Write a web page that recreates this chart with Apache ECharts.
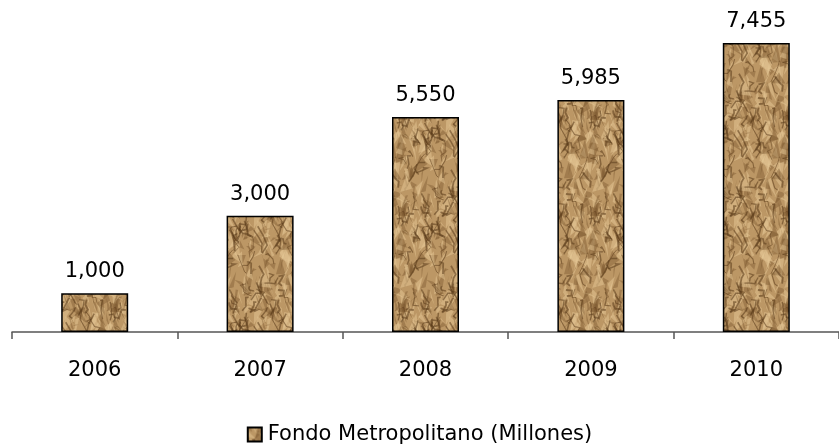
<!DOCTYPE html>
<html><head><meta charset="utf-8">
<script src="https://cdn.jsdelivr.net/npm/echarts@6/dist/echarts.min.js"></script>
<style>html,body{margin:0;padding:0;background:#fff}#c{width:839px;height:446px}</style>
</head><body><div id="c"></div>
<script>
const categories = ['2006','2007','2008','2009','2010'];
const values = [1000, 3000, 5550, 5985, 7455];
const seriesName = 'Fondo Metropolitano (Millones)';

// crumpled-paper style texture (deterministic, seamless)
function makeTexture(){
  const W = 96;
  const c = document.createElement('canvas');
  c.width = W; c.height = W;
  const g = c.getContext('2d');
  let s = 24681;
  const rnd = () => { s = (s * 16807) % 2147483647; return (s - 1) / 2147483646; };
  g.fillStyle = '#bc9765'; g.fillRect(0,0,W,W);
  const offs = [-W,0,W];
  function wrap(draw){ offs.forEach(dx=>offs.forEach(dy=>{ g.save(); g.translate(dx,dy); draw(); g.restore(); })); }
  for (let i=0;i<240;i++){
    const x=rnd()*W, y=rnd()*W;
    const p1=[x+(rnd()-0.5)*16, y+(rnd()-0.1)*22];
    const p2=[x+(rnd()-0.5)*16, y+(rnd()-0.1)*22];
    const light = rnd()>0.5;
    const col = light ? 'rgba(230,200,150,0.5)' : 'rgba(120,85,45,0.4)';
    wrap(()=>{ g.beginPath(); g.moveTo(x,y); g.lineTo(p1[0],p1[1]); g.lineTo(p2[0],p2[1]); g.closePath(); g.fillStyle=col; g.fill(); });
  }
  for (let i=0;i<70;i++){
    let x=rnd()*W, y=rnd()*W;
    const pts=[[x,y]];
    for (let k=0;k<3;k++){ x+= (rnd()-0.5)*12; y+= (rnd()-0.1)*12; pts.push([x,y]); }
    const w = 0.8 + rnd()*1.2;
    wrap(()=>{ g.beginPath(); g.moveTo(pts[0][0],pts[0][1]); for(let k=1;k<pts.length;k++) g.lineTo(pts[k][0],pts[k][1]); g.lineWidth=w; g.strokeStyle='rgba(90,58,25,0.55)'; g.stroke(); });
  }
  return c;
}
const tex = makeTexture();
const FONT = 'DejaVu Sans';

const chart = echarts.init(document.getElementById('c'));
chart.setOption({
  animation:false,
  grid:{left:12,right:0,top:22,bottom:114},
  legend:{
    top:424, left:'center', padding:0,
    itemWidth:14, itemHeight:14, itemGap:6,
    textStyle:{fontFamily:FONT, fontSize:21, color:'#000', padding:[0,0,0,1]},
    data:[{name:seriesName, icon:'rect', itemStyle:{color:{image:tex,repeat:'repeat'}, borderColor:'#000', borderWidth:2}}]
  },
  xAxis:{
    type:'category', data:categories,
    axisLine:{show:true,lineStyle:{color:'#555',width:1.5}},
    axisTick:{show:true,length:7,lineStyle:{color:'#555',width:1.5}},
    axisLabel:{fontFamily:FONT,fontSize:21,color:'#000',margin:28}
  },
  yAxis:{type:'value',min:0,max:8000,show:false,splitLine:{show:false}},
  series:[{
    name:seriesName, type:'bar', data:values, barWidth:67,
    itemStyle:{color:{image:tex,repeat:'repeat'}, borderColor:'#000', borderWidth:1.5},
    label:{show:true,position:'top',distance:11,fontFamily:FONT,fontSize:21,color:'#000',
      formatter:p=>p.value.toLocaleString('en-US')}
  }]
});
</script></body></html>
